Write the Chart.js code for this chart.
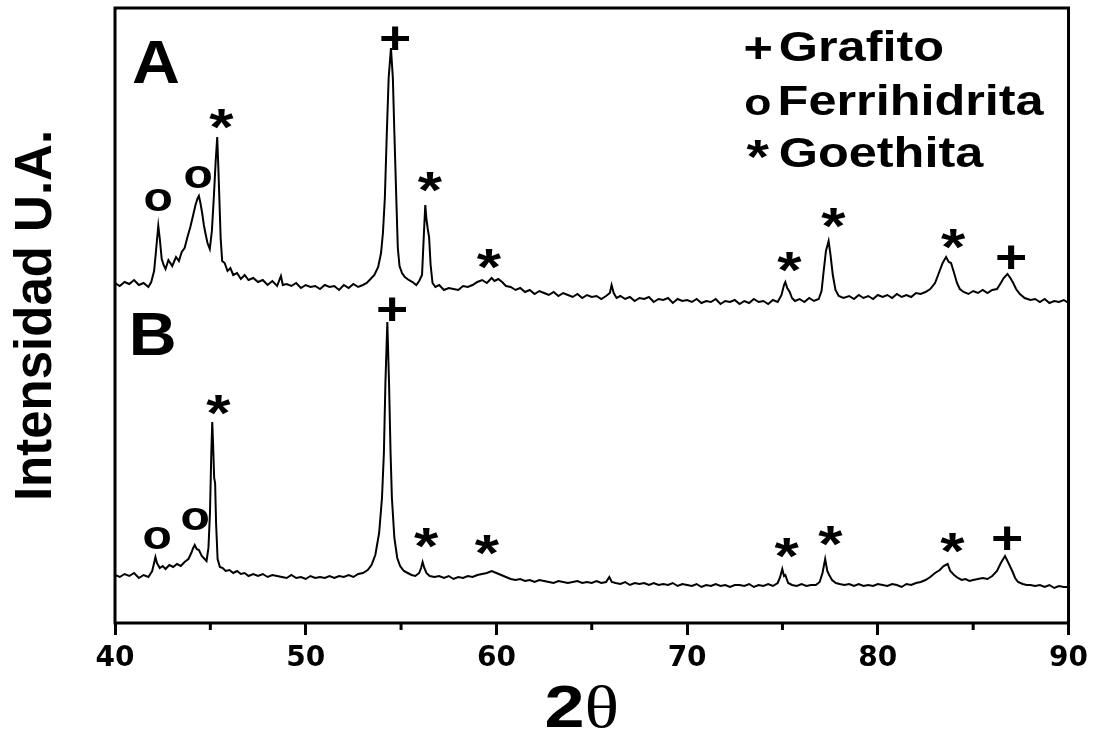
<!DOCTYPE html>
<html>
<head>
<meta charset="utf-8">
<title>DRX</title>
<script src="https://cdn.jsdelivr.net/npm/chart.js@4.4.1/dist/chart.umd.min.js"></script>
<style>
  html, body { margin: 0; padding: 0; background: #fff; }
  #wrap { width: 1095px; height: 733px; }
</style>
</head>
<body>
<div id="wrap"><canvas id="graficoDRX" width="1095" height="733"></canvas></div>
<script>
// Patrón A (2θ, intensidad en unidades arbitrarias)
const tetaA = [
  40.00, 40.25, 40.50, 40.75, 41.00, 41.25, 41.50, 41.75, 41.90, 42.05, 42.15, 42.27, 42.35, 42.45, 42.55, 42.65,
  42.80, 43.00, 43.20, 43.35, 43.50, 43.65, 43.80, 43.95, 44.10, 44.22, 44.32, 44.40, 44.48, 44.57, 44.66, 44.75,
  44.85, 44.97, 45.08, 45.18, 45.28, 45.36, 45.42, 45.48, 45.54, 45.62, 45.75, 45.90, 46.05, 46.20, 46.40, 46.60,
  46.80, 47.00, 47.25, 47.50, 47.75, 48.00, 48.25, 48.50, 48.70, 48.80, 49.00, 49.25, 49.50, 49.75, 50.00, 50.25,
  50.50, 50.75, 51.00, 51.25, 51.50, 51.75, 52.00, 52.25, 52.50, 52.75, 53.00, 53.20, 53.40, 53.60, 53.80, 53.95,
  54.05, 54.15, 54.25, 54.35, 54.47, 54.57, 54.65, 54.75, 54.83, 54.92, 55.05, 55.20, 55.40, 55.60, 55.80, 55.95,
  56.10, 56.20, 56.27, 56.33, 56.40, 56.47, 56.55, 56.65, 56.80, 57.00, 57.25, 57.50, 57.75, 58.00, 58.25, 58.50,
  58.75, 59.00, 59.25, 59.50, 59.75, 59.90, 60.10, 60.30, 60.50, 60.75, 61.00, 61.25, 61.50, 61.75, 62.00, 62.25,
  62.50, 62.75, 63.00, 63.25, 63.50, 63.75, 64.00, 64.25, 64.50, 64.75, 65.00, 65.25, 65.50, 65.75, 65.95, 66.04,
  66.15, 66.30, 66.50, 66.75, 67.00, 67.25, 67.50, 67.75, 68.00, 68.25, 68.50, 68.75, 69.00, 69.25, 69.50, 69.75,
  70.00, 70.25, 70.50, 70.75, 71.00, 71.25, 71.50, 71.75, 72.00, 72.25, 72.50, 72.75, 73.00, 73.25, 73.50, 73.75,
  74.00, 74.25, 74.50, 74.75, 74.95, 75.08, 75.15, 75.25, 75.38, 75.50, 75.65, 75.90, 76.15, 76.40, 76.65, 76.90,
  77.05, 77.15, 77.28, 77.42, 77.52, 77.64, 77.78, 77.95, 78.20, 78.50, 78.75, 79.00, 79.25, 79.50, 79.75, 80.00,
  80.25, 80.50, 80.75, 81.00, 81.25, 81.50, 81.75, 82.00, 82.25, 82.50, 82.75, 83.00, 83.20, 83.40, 83.58, 83.72,
  83.84, 84.00, 84.15, 84.30, 84.50, 84.75, 85.00, 85.25, 85.50, 85.75, 86.00, 86.25, 86.45, 86.60, 86.80, 86.95,
  87.10, 87.25, 87.45, 87.70, 88.00, 88.25, 88.50, 88.75, 89.00, 89.25, 89.50, 89.75, 90.00
];
const intensidadA = [
  340, 337, 341, 339, 343, 338, 340, 336, 341, 352, 372, 397, 384, 364, 358, 354,
  363, 357, 366, 362, 371, 375, 386, 396, 408, 418, 424, 427, 420, 410, 398, 389,
  380, 374, 392, 425, 462, 486, 455, 420, 385, 362, 360, 352, 355, 348, 350, 344,
  348, 343, 345, 341, 343, 338, 342, 337, 347, 338, 339, 337, 340, 335, 338, 336,
  337, 334, 338, 336, 337, 333, 338, 335, 339, 336, 338, 340, 344, 348, 356, 370,
  390, 425, 488, 545, 575, 545, 490, 425, 375, 357, 350, 346, 343, 341, 338, 342,
  348, 390, 418, 404, 394, 386, 358, 340, 336, 338, 333, 335, 334, 333, 337, 336,
  338, 341, 343, 340, 345, 342, 344, 341, 337, 336, 333, 335, 331, 333, 329, 332,
  330, 328, 331, 327, 330, 328, 326, 329, 325, 328, 326, 327, 324, 327, 330, 338,
  330, 325, 327, 324, 326, 322, 325, 324, 326, 321, 324, 323, 325, 320, 324, 322,
  323, 321, 324, 320, 322, 321, 324, 319, 322, 321, 323, 319, 322, 320, 324, 321,
  322, 319, 323, 321, 328, 338, 341, 335, 331, 325, 322, 324, 321, 325, 322, 324,
  332, 350, 372, 382, 368, 348, 333, 327, 325, 327, 324, 328, 325, 327, 324, 328,
  326, 328, 325, 329, 326, 328, 326, 330, 329, 331, 334, 340, 350, 360, 366, 361,
  360, 350, 340, 334, 331, 329, 332, 330, 333, 330, 333, 334, 340, 345, 349, 345,
  340, 334, 329, 325, 323, 324, 321, 324, 320, 322, 321, 323, 320
];

// Patrón B
const tetaB = [
  40.00, 40.25, 40.50, 40.75, 41.00, 41.25, 41.50, 41.75, 41.95, 42.05, 42.12, 42.20, 42.35, 42.50, 42.65, 42.85,
  43.05, 43.25, 43.45, 43.65, 43.85, 44.00, 44.10, 44.18, 44.28, 44.40, 44.55, 44.70, 44.80, 44.90, 44.98, 45.05,
  45.10, 45.15, 45.20, 45.25, 45.30, 45.38, 45.50, 45.65, 45.80, 46.00, 46.20, 46.40, 46.60, 46.80, 47.00, 47.25,
  47.50, 47.75, 48.00, 48.25, 48.50, 48.75, 49.00, 49.25, 49.50, 49.75, 50.00, 50.25, 50.50, 50.75, 51.00, 51.25,
  51.50, 51.75, 52.00, 52.25, 52.50, 52.75, 53.00, 53.25, 53.45, 53.65, 53.85, 54.00, 54.10, 54.18, 54.28, 54.37,
  54.45, 54.52, 54.65, 54.80, 54.95, 55.15, 55.35, 55.55, 55.75, 55.95, 56.05, 56.13, 56.22, 56.33, 56.50, 56.75,
  57.00, 57.25, 57.50, 57.75, 58.00, 58.25, 58.50, 58.75, 59.00, 59.25, 59.50, 59.75, 60.00, 60.25, 60.50, 60.75,
  61.00, 61.25, 61.50, 61.75, 62.00, 62.25, 62.50, 62.75, 63.00, 63.25, 63.50, 63.75, 64.00, 64.25, 64.50, 64.75,
  65.00, 65.25, 65.50, 65.75, 65.92, 66.05, 66.25, 66.50, 66.75, 67.00, 67.25, 67.50, 67.75, 68.00, 68.25, 68.50,
  68.75, 69.00, 69.25, 69.50, 69.75, 70.00, 70.25, 70.50, 70.75, 71.00, 71.25, 71.50, 71.75, 72.00, 72.25, 72.50,
  72.75, 73.00, 73.25, 73.50, 73.75, 74.00, 74.25, 74.50, 74.75, 74.88, 74.99, 75.08, 75.15, 75.30, 75.50, 75.75,
  76.00, 76.25, 76.50, 76.75, 76.95, 77.10, 77.24, 77.35, 77.45, 77.60, 77.80, 78.00, 78.25, 78.50, 78.75, 79.00,
  79.25, 79.50, 79.75, 80.00, 80.25, 80.50, 80.75, 81.00, 81.25, 81.50, 81.75, 82.00, 82.25, 82.50, 82.75, 83.00,
  83.25, 83.45, 83.66, 83.80, 84.00, 84.20, 84.40, 84.60, 84.80, 85.00, 85.25, 85.50, 85.75, 86.00, 86.25, 86.45,
  86.67, 86.85, 87.05, 87.20, 87.35, 87.60, 87.80, 88.00, 88.25, 88.50, 88.75, 89.00, 89.25, 89.50, 89.75, 90.00
];
const intensidadB = [
  48, 46, 49, 47, 50, 45, 48, 46, 52, 60, 66, 60, 55, 57, 54, 58,
  56, 59, 57, 61, 64, 70, 75, 78, 74, 73, 67, 64, 62, 75, 110, 170,
  201, 175, 145, 140, 100, 64, 56, 55, 52, 53, 50, 52, 49, 50, 47, 49,
  47, 49, 46, 48, 47, 46, 45, 48, 45, 46, 44, 47, 45, 46, 45, 47,
  45, 47, 46, 48, 46, 49, 50, 53, 58, 68, 90, 125, 170, 240, 301, 240,
  170, 125, 85, 65, 57, 52, 50, 48, 47, 50, 55, 61, 55, 50, 47, 46,
  47, 45, 47, 44, 46, 45, 47, 46, 48, 49, 50, 52, 50, 48, 46, 44,
  43, 44, 42, 43, 41, 43, 42, 41, 40, 42, 41, 40, 41, 42, 40, 41,
  40, 42, 40, 41, 46, 41, 40, 39, 41, 38, 40, 39, 40, 38, 40, 38,
  39, 38, 40, 37, 39, 38, 37, 39, 36, 38, 37, 39, 37, 38, 36, 38,
  38, 37, 39, 36, 38, 37, 39, 37, 40, 46, 54, 47, 48, 40, 38, 37,
  39, 37, 38, 38, 41, 50, 64, 52, 48, 43, 40, 39, 38, 39, 37, 39,
  37, 38, 37, 39, 38, 37, 39, 38, 36, 39, 38, 40, 41, 43, 46, 50,
  53, 57, 59, 52, 48, 45, 43, 44, 42, 43, 44, 45, 44, 47, 52, 60,
  67, 60, 52, 45, 41, 39, 38, 38, 37, 38, 36, 38, 35, 37, 36, 36
];

// Marcas de fases sobre los picos
const marcaAx = [42.25, 44.35, 45.60, 54.66, 56.54, 59.63, 75.39, 77.70, 83.98, 86.96];
const marcaAy = [423, 446, 504, 585, 441, 364, 361, 405, 384, 366];
const marcaAs = ["o", "o", "*", "+", "*", "*", "*", "*", "*", "+"];
const marcaBx = [42.20, 44.19, 45.45, 54.50, 56.34, 59.53, 75.24, 77.54, 83.93, 86.75];
const marcaBy = [85, 104, 218, 314, 85, 78, 75, 87, 80, 85];
const marcaBs = ["o", "o", "*", "+", "*", "*", "*", "*", "*", "+"];

const fases = ["Grafito", "Ferrihidrita", "Goethita"];
const simbolosFases = ["+", "o", "*"];
const ticksMenores = [45, 55, 65, 75, 85];

const tamSimbolo = { "+": 46, "o": 40, "*": 52 };
const ESTIRA = 1.2;

function dibujarSimbolo(ctx, s, cx, cy, escala) {
  const k = escala || 1;
  ctx.save();
  ctx.font = "bold " + Math.round(tamSimbolo[s] * k) + "px 'Liberation Sans', Arial, sans-serif";
  ctx.textAlign = "left";
  ctx.textBaseline = "alphabetic";
  const m = ctx.measureText(s);
  const x0 = -(m.actualBoundingBoxRight - m.actualBoundingBoxLeft) / 2;
  const y0 = (m.actualBoundingBoxAscent - m.actualBoundingBoxDescent) / 2;
  ctx.translate(cx, cy);
  ctx.scale(ESTIRA, 1);
  ctx.fillText(s, x0, y0);
  ctx.restore();
}

function textoEstirado(ctx, txt, x, y, font, estira) {
  ctx.save();
  ctx.font = font;
  ctx.textAlign = "left";
  ctx.textBaseline = "alphabetic";
  const m = ctx.measureText(txt);
  ctx.translate(x, y);
  ctx.scale(estira, 1);
  ctx.fillText(txt, m.actualBoundingBoxLeft, 0);
  ctx.restore();
}

const extrasDRX = {
  id: "extrasDRX",
  afterDraw(chart) {
    const ctx = chart.ctx;
    const ca = chart.chartArea;
    const sx = chart.scales.x, sy = chart.scales.y;
    ctx.save();
    ctx.fillStyle = "#000";
    ctx.strokeStyle = "#000";

    // marco
    ctx.lineWidth = 3;
    ctx.strokeRect(ca.left, ca.top, ca.right - ca.left, ca.bottom - ca.top);

    // ticks menores
    ticksMenores.forEach(v => {
      const px = sx.getPixelForValue(v);
      ctx.beginPath();
      ctx.moveTo(px, ca.bottom);
      ctx.lineTo(px, ca.bottom + 7);
      ctx.stroke();
    });

    // marcas de fase
    marcaAx.forEach((x, i) => dibujarSimbolo(ctx, marcaAs[i], sx.getPixelForValue(x), sy.getPixelForValue(marcaAy[i])));
    marcaBx.forEach((x, i) => dibujarSimbolo(ctx, marcaBs[i], sx.getPixelForValue(x), sy.getPixelForValue(marcaBy[i])));

    // letras de panel
    const fPanel = "bold 62px 'Liberation Sans', Arial, sans-serif";
    textoEstirado(ctx, "A", ca.left + 18, ca.top + 75, fPanel, 1.07);
    textoEstirado(ctx, "B", ca.left + 18, ca.top + 347, fPanel, 1.07);

    // leyenda
    const fLeyenda = "bold 42px 'Liberation Sans', Arial, sans-serif";
    const base = [53, 107, 159];
    const centroSim = [40, 97, 141];
    fases.forEach((f, i) => {
      dibujarSimbolo(ctx, simbolosFases[i], ca.left + 643, ca.top + centroSim[i], 0.92);
      textoEstirado(ctx, f, ca.left + 665, ca.top + base[i], fLeyenda, ESTIRA);
    });

    // título eje x: 2θ
    const f2 = "bold 60px 'Liberation Sans', Arial, sans-serif";
    const fT = "60px 'Liberation Serif', 'Times New Roman', serif";
    ctx.font = f2;
    const w2 = ctx.measureText("2").width * ESTIRA;
    ctx.font = fT;
    const wT = ctx.measureText("\u03b8").width * ESTIRA;
    const x0 = (ca.left + ca.right) / 2 - 10 - (w2 + wT) / 2;
    const yb = 727;
    ctx.save();
    ctx.translate(x0, yb);
    ctx.scale(ESTIRA, 1);
    ctx.font = f2;
    ctx.textAlign = "left";
    ctx.textBaseline = "alphabetic";
    ctx.fillText("2", 0, 0);
    ctx.font = fT;
    ctx.fillText("\u03b8", w2 / ESTIRA, 0);
    ctx.restore();

    ctx.restore();
  }
};

const ctxDRX = document.getElementById("graficoDRX").getContext("2d");

window.graficoDRX = new Chart(ctxDRX, {
  type: "line",
  data: {
    datasets: [
      {
        label: "A",
        data: tetaA.map((t, i) => ({ x: t, y: intensidadA[i] })),
        borderColor: "#000",
        borderWidth: 2,
        pointRadius: 0,
        tension: 0,
        fill: false
      },
      {
        label: "B",
        data: tetaB.map((t, i) => ({ x: t, y: intensidadB[i] })),
        borderColor: "#000",
        borderWidth: 2,
        pointRadius: 0,
        tension: 0,
        fill: false
      }
    ]
  },
  options: {
    responsive: false,
    animation: false,
    layout: { padding: { top: 8, right: 25, left: 0, bottom: 0 } },
    plugins: {
      legend: { display: false },
      tooltip: { enabled: false }
    },
    scales: {
      x: {
        type: "linear",
        min: 40,
        max: 90,
        afterFit: s => { s.height = 110; },
        border: { display: false },
        grid: {
          drawOnChartArea: false,
          drawTicks: true,
          tickLength: 12,
          tickWidth: 3,
          tickColor: c => (c.tick && c.tick.value % 10 === 0) ? "#000" : "rgba(0,0,0,0)"
        },
        ticks: {
          stepSize: 5,
          autoSkip: false,
          maxRotation: 0,
          padding: 7,
          color: "#000",
          font: { family: "'DejaVu Sans'", weight: "bold", size: 28 },
          callback: v => (v % 10 === 0 ? v : "")
        }
      },
      y: {
        min: 0,
        max: 615,
        afterFit: s => { s.width = 115; },
        border: { display: false },
        grid: { display: false },
        ticks: { display: false },
        title: {
          display: true,
          text: "Intensidad U.A.",
          color: "#000",
          padding: { top: 6, bottom: 0 },
          font: { family: "'Liberation Sans'", weight: "bold", size: 51 }
        }
      }
    }
  },
  plugins: [extrasDRX]
});
</script>
</body>
</html>
